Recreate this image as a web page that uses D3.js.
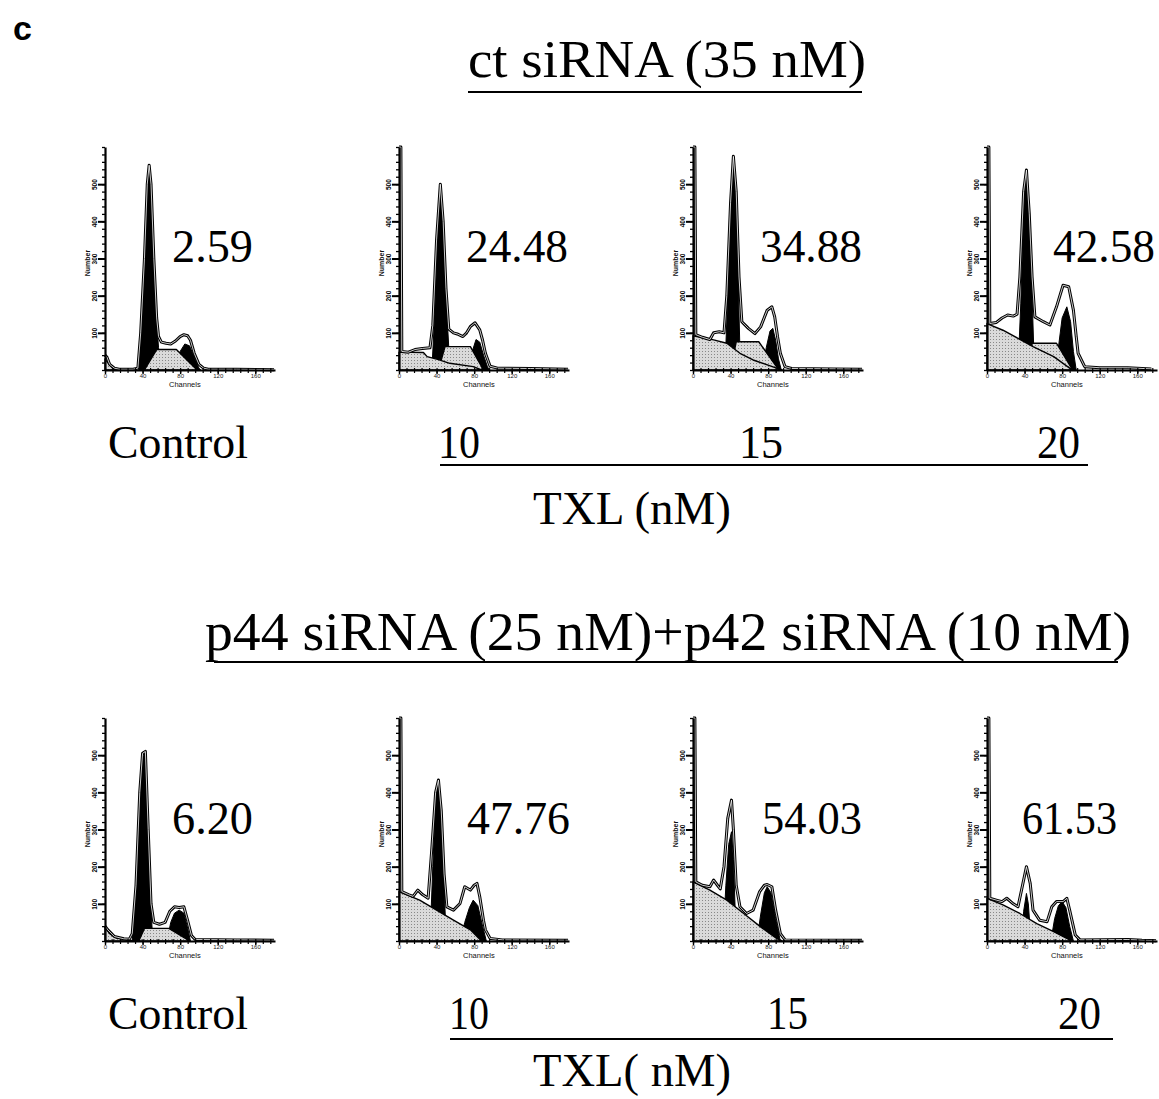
<!DOCTYPE html>
<html><head><meta charset="utf-8">
<script src="https://cdn.jsdelivr.net/npm/d3@7"></script>
<style>body{margin:0;background:#fff}svg{display:block}</style>
</head><body>
<svg id="c" width="1159" height="1099"></svg>
<script>
// ---------------- DATA ----------------
const doseLabels = ["Control", "10", "15", "20"];
const ctPercent = ["2.59", "24.48", "34.88", "42.58"];
const kdPercent = ["6.20", "47.76", "54.03", "61.53"];
const xTicks = [0, 40, 80, 120, 160];
const yTicks = [100, 200, 300, 400, 500];
const yTickLabels = ["100", "200", "300", "400", "500"];

// ct siRNA row: [channel, count] points for each component, one array per panel
const ctTotal = [
  [[0,40],[2,35],[5,15],[10,5],[15,2],[30,2],[35,5],[38,100],[42,300],[45,500],[47,551],[49,500],[52,300],[55,140],[57,90],[60,75],[65,72],[70,70],[75,78],[80,90],[84,95],[88,92],[91,80],[95,45],[100,15],[105,5],[110,2],[140,2],[180,1]],
  [[0,600],[2,600],[3,50],[10,48],[17,55],[25,58],[33,60],[36,120],[40,350],[44,500],[47,400],[50,220],[53,110],[58,100],[62,97],[68,90],[72,100],[76,117],[81,127],[86,108],[89,80],[92,45],[97,10],[105,5],[140,4],[180,2]],
  [[0,600],[2,600],[3,95],[10,88],[18,82],[22,100],[28,103],[33,100],[36,200],[40,450],[43,575],[46,480],[49,250],[52,130],[59,112],[66,98],[72,116],[79,161],[84,170],[87,143],[90,90],[93,45],[98,9],[105,4],[150,3],[180,2]],
  [[0,600],[2,600],[3,125],[10,128],[16,140],[22,148],[28,145],[32,150],[35,250],[39,480],[42,538],[45,420],[48,250],[51,143],[60,130],[67,121],[74,170],[81,228],[87,224],[92,161],[95,90],[97,45],[104,9],[120,6],[150,6],[175,3]]
];
const ctG1 = [
  [[36,0],[38,90],[42,290],[45,490],[47,540],[49,490],[52,290],[55,130],[57,60],[59,0]],
  [[35,0],[38,150],[41,350],[44,490],[47,390],[50,200],[53,60],[55,0]],
  [[34,0],[37,200],[40,440],[43,565],[46,470],[48,250],[50,50],[51,0]],
  [[33,0],[36,180],[39,430],[42,530],[45,400],[48,200],[50,40],[51,0]]
];
const ctG2 = [
  [[75,0],[80,50],[85,70],[90,65],[95,35],[100,5],[102,0]],
  [[74,0],[78,50],[82,82],[86,75],[90,40],[94,10],[96,0]],
  [[74,0],[78,60],[82,105],[85,112],[88,80],[91,30],[94,0]],
  [[72,0],[76,60],[80,140],[85,170],[89,130],[92,50],[95,0]]
];
const ctS = [
  [[42,0],[55,55],[76,55],[98,0]],
  [[42,0],[49,63],[76,63],[88,9],[89,0]],
  [[40,0],[46,76],[70,76],[90,5],[92,0]],
  [[45,0],[48,72],[74,72],[90,5],[92,0]]
];
const ctDebris = [
  [[0,30],[3,20],[8,5],[12,0]],
  [[0,48],[26,47],[30,36],[42,28],[54,18],[79,9],[88,0]],
  [[0,92],[22,81],[36,72],[50,45],[64,27],[89,5],[95,0]],
  [[0,125],[17,107],[33,85],[49,63],[71,36],[88,5],[92,0]]
];

// p44 + p42 siRNA row
const kdTotal = [
  [[0,40],[3,30],[10,12],[20,6],[26,5],[29,20],[33,150],[37,400],[40,505],[43,510],[46,300],[49,100],[52,50],[58,45],[64,50],[69,80],[74,92],[79,90],[84,92],[88,55],[92,15],[96,4],[140,3],[180,2]],
  [[0,600],[2,600],[3,133],[10,125],[15,120],[20,137],[25,125],[31,115],[35,250],[39,400],[42,433],[45,350],[48,180],[51,92],[58,83],[65,101],[70,146],[76,137],[80,150],[83,155],[86,119],[90,55],[92,30],[97,7],[110,3],[180,2]],
  [[0,600],[2,600],[3,159],[10,150],[18,146],[22,164],[26,150],[29,140],[33,200],[37,330],[41,379],[43,300],[46,150],[50,92],[57,74],[64,83],[71,133],[76,150],[79,152],[84,146],[88,83],[93,20],[98,3],[180,2]],
  [[0,600],[2,600],[3,115],[10,110],[16,106],[21,115],[28,100],[33,92],[37,140],[42,200],[46,155],[49,83],[56,56],[64,52],[69,92],[74,106],[81,106],[85,115],[88,83],[94,16],[99,3],[150,4],[165,2],[180,1]]
];
const kdG1 = [
  [[29,0],[33,140],[37,390],[40,495],[43,500],[46,290],[49,80],[51,0]],
  [[33,0],[36,200],[39,380],[42,425],[45,330],[48,150],[50,20],[51,0]],
  [[32,0],[35,150],[38,260],[41,294],[43,220],[45,80],[47,0]],
  [[37,0],[39,80],[42,128],[44,100],[46,30],[48,0]]
];
const kdG2 = [
  [[66,0],[70,50],[74,75],[79,83],[84,75],[88,35],[91,0]],
  [[65,0],[70,50],[75,90],[79,110],[84,95],[89,40],[93,0]],
  [[68,0],[72,70],[76,130],[79,146],[83,130],[88,60],[93,0]],
  [[68,0],[72,60],[76,95],[80,106],[84,90],[88,40],[92,0]]
];
const kdS = [
  [[36,0],[42,34],[68,34],[90,0]],
  [],
  [],
  []
];
const kdDebris = [
  [[0,38],[5,20],[12,8],[25,3],[30,0]],
  [[0,133],[22,110],[40,83],[58,56],[76,30],[86,5],[88,0]],
  [[0,159],[18,137],[36,110],[54,74],[72,38],[89,7],[95,0]],
  [[0,115],[17,97],[35,74],[53,47],[71,25],[88,3],[90,0]]
];

// ---------------- DRAWING ----------------
const svg = d3.select("#c");
svg.append("rect").attr("width",1159).attr("height",1099).attr("fill","#fff");
const defs = svg.append("defs");
const pat = defs.append("pattern").attr("id","stip").attr("width",3).attr("height",3)
  .attr("patternUnits","userSpaceOnUse");
pat.append("rect").attr("width",3).attr("height",3).attr("fill","#dadada");
pat.append("rect").attr("width",1).attr("height",1).attr("fill","#888");

const serif = "'Liberation Serif','Times New Roman',Times,serif";
const sans = "'Liberation Sans',Arial,Helvetica,sans-serif";

const panelX = [105, 399, 693, 987];

function panel(P, base, total, g1, g2, s, deb) {
  const x = d3.scaleLinear().domain([0, 181]).range([P, P + 170]);
  const y = d3.scaleLinear().domain([0, 600]).range([base, base - 223]);
  const g = svg.append("g");
  const area = d3.area().x(d => x(d[0])).y0(y(0)).y1(d => y(d[1]));
  const line = d3.line().x(d => x(d[0])).y(d => y(d[1]));
  [g1, g2].forEach(a => g.append("path").attr("d", area(a)).attr("fill", "#000")
    .attr("stroke","#000").attr("stroke-width",1));
  if (s.length) g.append("path").attr("d", area(s)).attr("fill", "url(#stip)")
    .attr("stroke", "#000").attr("stroke-width", 1.4).attr("stroke-linejoin","round");
  g.append("path").attr("d", area(deb)).attr("fill", "url(#stip)")
    .attr("stroke", "#000").attr("stroke-width", 1.4).attr("stroke-linejoin","round");
  g.append("path").attr("d", line(total)).attr("fill", "none")
    .attr("stroke", "#000").attr("stroke-width", 3).attr("stroke-linejoin","round");
  g.append("path").attr("d", line(total)).attr("fill", "none")
    .attr("stroke", "#fff").attr("stroke-width", 0.8).attr("stroke-linejoin","round");

  // x axis: minor ticks
  const xMinor = g.append("g").attr("transform", `translate(0,${base})`)
    .call(d3.axisBottom(x).tickValues(d3.range(0, 181, 8)).tickSize(3).tickSizeOuter(0).tickFormat(""));
  xMinor.select(".domain").attr("stroke-width", 2.2);
  xMinor.selectAll(".tick line").attr("stroke-width", 1.2).attr("y1", -2);
  const xMajor = g.append("g").attr("transform", `translate(0,${base})`)
    .call(d3.axisBottom(x).tickValues(xTicks).tickSize(4).tickSizeOuter(0));
  xMajor.select(".domain").remove();
  xMajor.selectAll(".tick line").attr("stroke-width", 1.4);
  xMajor.selectAll(".tick text").attr("font-family", sans).attr("font-size", 6).attr("dy", "0.2em").attr("fill","#222");
  g.append("text").attr("x", x(85)).attr("y", base + 17).attr("text-anchor", "middle")
    .attr("font-family", sans).attr("font-size", 7.5).attr("fill","#111").text("Channels");

  // y axis
  const yMinor = g.append("g").attr("transform", `translate(${P},0)`)
    .call(d3.axisLeft(y).tickValues(d3.range(0, 601, 20)).tickSize(3).tickSizeOuter(0).tickFormat(""));
  yMinor.select(".domain").attr("stroke-width", 2.2);
  yMinor.selectAll(".tick line").attr("stroke-width", 1.3);
  const yMajor = g.append("g").attr("transform", `translate(${P},0)`)
    .call(d3.axisLeft(y).tickValues(yTicks).tickSize(7).tickSizeOuter(0).tickFormat((d, i) => yTickLabels[i]));
  yMajor.select(".domain").remove();
  yMajor.selectAll(".tick line").attr("stroke-width", 2);
  yMajor.selectAll(".tick text").attr("font-family", sans).attr("font-size", 6.5).attr("font-weight","bold")
    .attr("x", 0).attr("dy", 0).attr("text-anchor", "middle").attr("fill","#000")
    .attr("transform", "translate(-8,0) rotate(-90)");
  g.append("text").attr("transform", `translate(${P - 15},${base - 107}) rotate(-90)`)
    .attr("text-anchor", "middle").attr("font-family", sans).attr("font-size", 7).attr("font-weight","bold")
    .attr("fill","#111").text("Number");
}

for (let i = 0; i < 4; i++) {
  panel(panelX[i], 370, ctTotal[i], ctG1[i], ctG2[i], ctS[i], ctDebris[i]);
  panel(panelX[i], 941, kdTotal[i], kdG1[i], kdG2[i], kdS[i], kdDebris[i]);
}

function txt(s, x, y, size, len, fam, weight) {
  const t = svg.append("text").attr("x", x).attr("y", y).attr("font-family", fam || serif)
    .attr("font-size", size).attr("fill", "#000").text(s);
  if (weight) t.attr("font-weight", weight);
  if (len) t.attr("textLength", len).attr("lengthAdjust", "spacingAndGlyphs");
  return t;
}
function rule(x1, x2, y) {
  svg.append("line").attr("x1", x1).attr("x2", x2).attr("y1", y).attr("y2", y)
    .attr("stroke", "#000").attr("stroke-width", 2);
}

txt("c", 13, 40, 34, null, sans, "bold");
txt("ct siRNA (35 nM)", 468, 77, 52, 398);
rule(468, 862, 92);
const ctNumX = [172, 466, 760, 1053], ctNumLen = [81, 102, 102, 102];
ctPercent.forEach((p, i) => txt(p, ctNumX[i], 262, 46, ctNumLen[i]));
const topLabX = [108, 438, 739, 1037], topLabLen = [140, 42, 44, 43];
doseLabels.forEach((d, i) => txt(d, topLabX[i], 458, 47, topLabLen[i]));
rule(440, 1088, 465);
txt("TXL (nM)", 533, 524, 47, 198);

txt("p44 siRNA (25 nM)+p42 siRNA (10 nM)", 205, 650, 54, 926);
rule(214, 1118, 662);
const kdNumX = [172, 467, 762, 1022], kdNumLen = [81, 103, 100, 95];
kdPercent.forEach((p, i) => txt(p, kdNumX[i], 834, 46, kdNumLen[i]));
const botLabX = [108, 449, 767, 1058], botLabLen = [140, 40, 41, 43];
doseLabels.forEach((d, i) => txt(d, botLabX[i], 1029, 47, botLabLen[i]));
rule(450, 1113, 1039);
txt("TXL( nM)", 533, 1086, 46, 198);
</script>
</body></html>
